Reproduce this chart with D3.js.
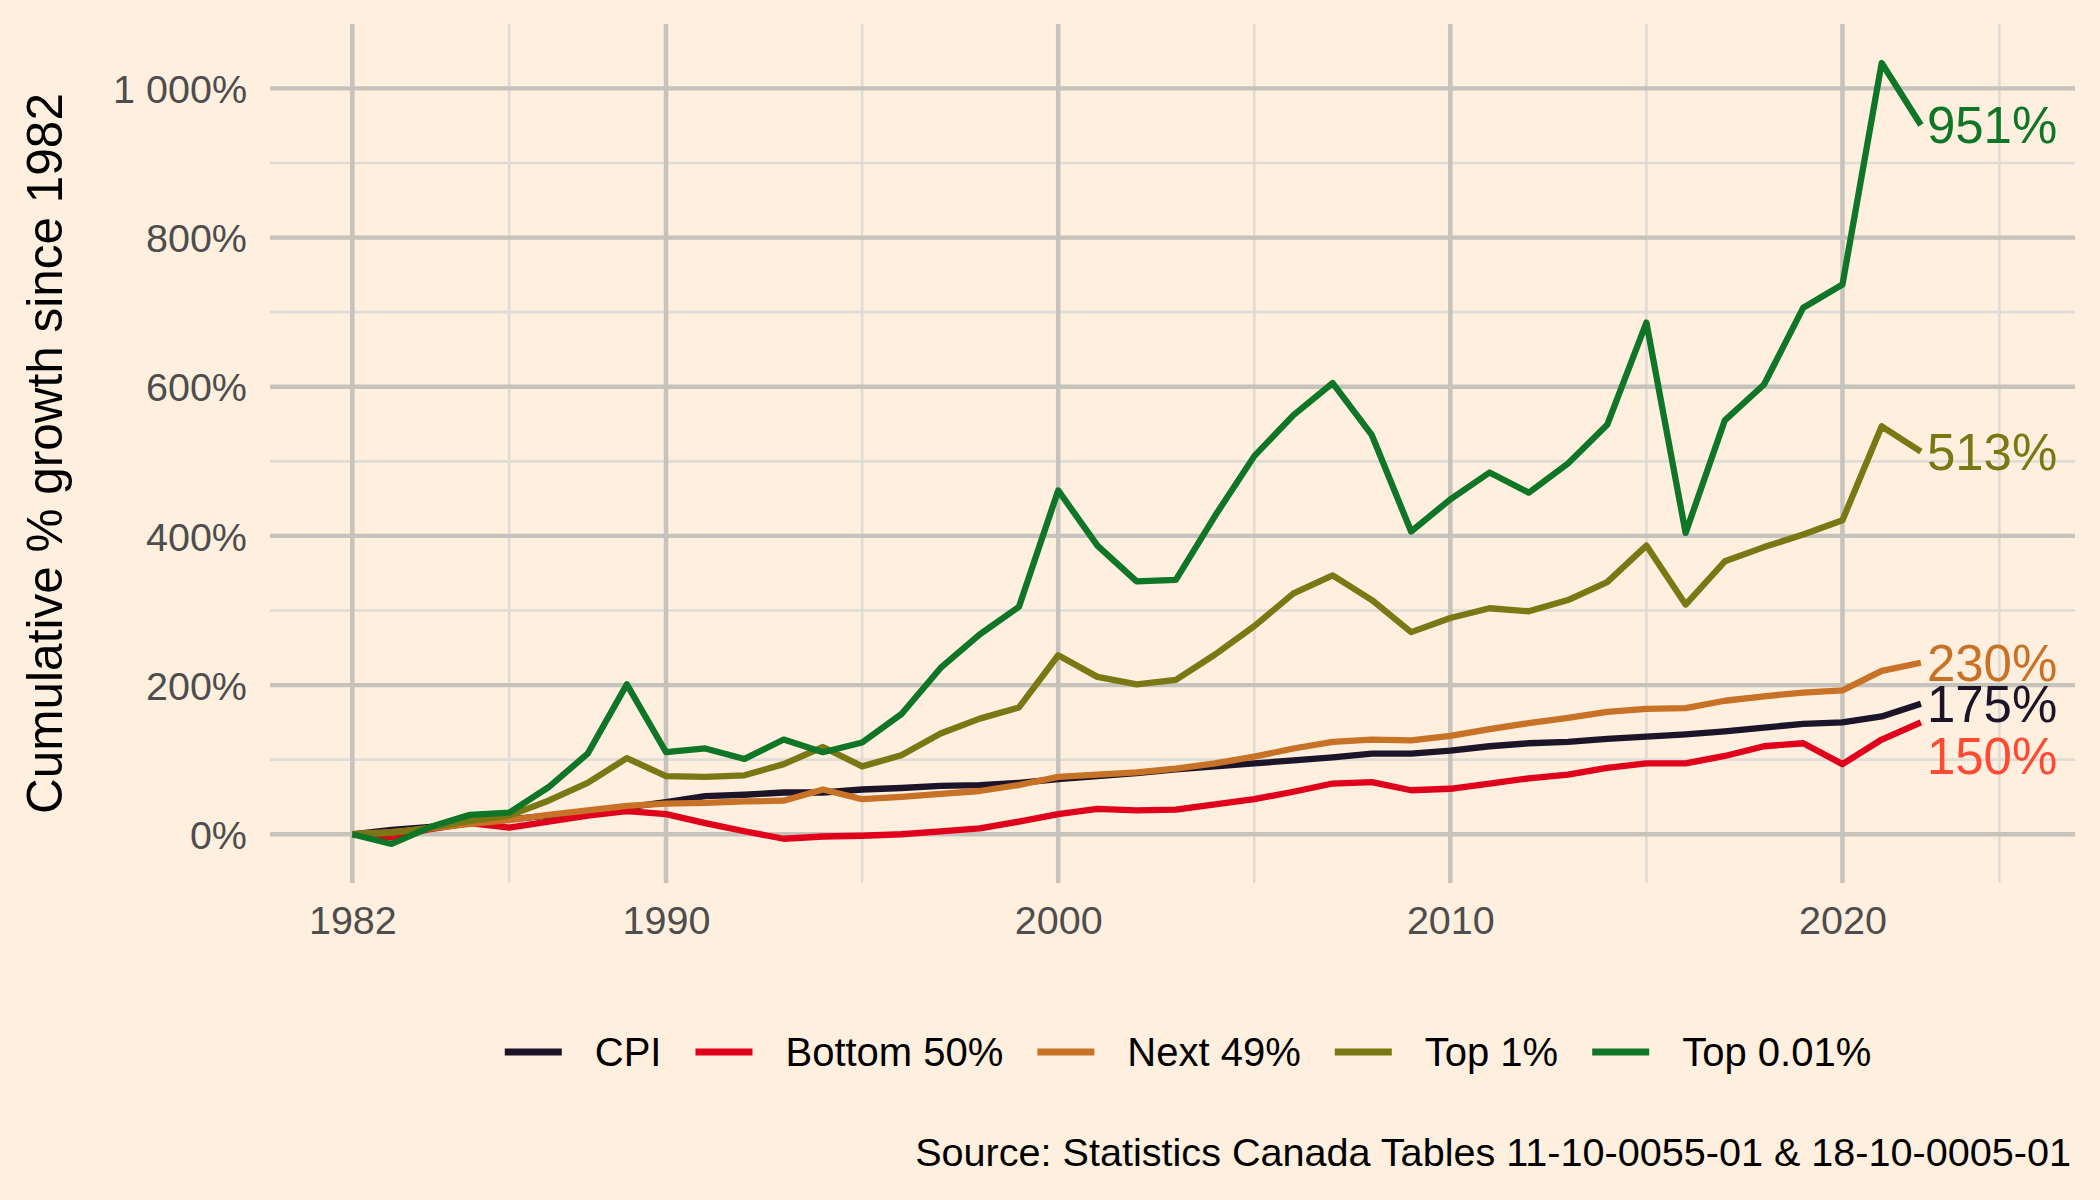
<!DOCTYPE html>
<html>
<head>
<meta charset="utf-8">
<script src="https://cdn.jsdelivr.net/npm/d3@7"></script>
<style>
  html, body { margin: 0; padding: 0; background: #FFEFDE; }
  svg { display: block; }
  text { font-family: "Liberation Sans", Arial, Helvetica, sans-serif; }
</style>
</head>
<body>
<svg id="chart" width="2100" height="1200"></svg>
<script>
// ---------------- DATA ----------------
const years = d3.range(1982, 2023);
const seriesNames = ["CPI", "Bottom 50%", "Next 49%", "Top 1%", "Top 0.01%"];
const seriesColors = ["#1C1429", "#E0001B", "#C87228", "#7A7814", "#0F7628"];
const labelColors = ["#1C1429", "#FF4A33", "#C87228", "#7A7814", "#0F7628"];

const cpi = [0, 6, 10, 15, 20, 25, 30, 36, 43, 51, 53, 56, 56, 60, 62, 65, 66, 69, 74, 78,
  82, 87, 91, 95, 99, 103, 108, 108, 112, 118, 122, 124, 128, 131, 134, 138, 143, 148, 150, 158, 175];
const bottom50 = [0, -4, 7, 15, 9, 17, 25, 31, 27, 15, 4, -6, -3, -2, 0, 4, 8, 17, 27, 34,
  32, 33, 40, 47, 57, 68, 70, 59, 61, 68, 75, 80, 89, 95, 95, 105, 118, 122, 94, 127, 150];
const next49 = [0, 3, 8, 14, 19, 26, 32, 38, 41, 42, 44, 45, 60, 47, 50, 54, 58, 66, 77, 80,
  83, 88, 95, 104, 115, 124, 127, 126, 132, 141, 149, 156, 164, 168, 169, 179, 185, 190, 193, 219, 230];
const top1 = [0, 2, 9, 18, 25, 45, 69, 102, 78, 77, 79, 94, 117, 91, 106, 135, 155, 170, 240, 211,
  201, 207, 241, 279, 323, 347, 314, 271, 290, 303, 299, 314, 338, 387, 308, 366, 385, 402, 421, 547, 513];
const top001 = [0, -13, 10, 26, 29, 63, 108, 201, 110, 115, 101, 127, 110, 123, 161, 223, 268, 305, 461, 387,
  339, 341, 427, 507, 562, 605, 535, 406, 449, 485, 458, 497, 549, 686, 404, 555, 603, 706, 737, 1034, 951];
const endLabels = ["175%", "150%", "230%", "513%", "951%"];

const xBreaks = [1982, 1990, 2000, 2010, 2020];
const xBreakLabels = ["1982", "1990", "2000", "2010", "2020"];
const xMinorBreaks = [1986, 1995, 2005, 2015, 2024];
const yBreaks = [0, 200, 400, 600, 800, 1000];
const yBreakLabels = ["0%", "200%", "400%", "600%", "800%", "1 000%"];
const yMinorBreaks = [100, 300, 500, 700, 900];

const yTitle = "Cumulative % growth since 1982";
const caption = "Source: Statistics Canada Tables 11-10-0055-01 & 18-10-0005-01";

// ---------------- LAYOUT ----------------
const allValues = [cpi, bottom50, next49, top1, top001];
const series = seriesNames.map((name, i) => ({
  name, color: seriesColors[i], labelColor: labelColors[i], label: endLabels[i],
  values: years.map((yr, j) => ({ year: yr, value: allValues[i][j] }))
}));

const panel = { left: 270, right: 2075, top: 24, bottom: 883 };
const svg = d3.select("#chart");

svg.append("rect").attr("width", 2100).attr("height", 1200).attr("fill", "#FFEFDE");

const x = d3.scaleLinear().domain([1979.9, 2025.93]).range([panel.left, panel.right]);

const vMin = d3.min(allValues, a => d3.min(a));
const vMax = d3.max(allValues, a => d3.max(a));
const yPad = (vMax - vMin) * 0.05;
const y = d3.scaleLinear().domain([vMin - yPad, vMax + yPad]).range([panel.bottom, panel.top]);

const grid = svg.append("g");
grid.selectAll("line.ymin").data(yMinorBreaks).join("line")
  .attr("x1", panel.left).attr("x2", panel.right)
  .attr("y1", d => y(d)).attr("y2", d => y(d))
  .attr("stroke", "#DFDBD5").attr("stroke-width", 2.6);
grid.selectAll("line.xmin").data(xMinorBreaks).join("line")
  .attr("y1", panel.top).attr("y2", panel.bottom)
  .attr("x1", d => x(d)).attr("x2", d => x(d))
  .attr("stroke", "#DFDBD5").attr("stroke-width", 2.6);
grid.selectAll("line.ymaj").data(yBreaks).join("line")
  .attr("x1", panel.left).attr("x2", panel.right)
  .attr("y1", d => y(d)).attr("y2", d => y(d))
  .attr("stroke", "#C6C2BC").attr("stroke-width", 4.3);
grid.selectAll("line.xmaj").data(xBreaks).join("line")
  .attr("y1", panel.top).attr("y2", panel.bottom)
  .attr("x1", d => x(d)).attr("x2", d => x(d))
  .attr("stroke", "#C6C2BC").attr("stroke-width", 4.5);

// axes (text only, via d3 axes)
const xAxis = d3.axisBottom(x).tickValues(xBreaks).tickFormat((d, i) => xBreakLabels[i]).tickSize(0).tickPadding(0);
const gx = svg.append("g").attr("transform", `translate(0, ${panel.bottom})`).call(xAxis);
gx.select(".domain").remove();
gx.selectAll("text").attr("y", 51).attr("dy", 0).attr("fill", "#4D4D4D")
  .attr("font-size", 39.5).attr("font-family", '"Liberation Sans", Arial, sans-serif');

const yAxis = d3.axisLeft(y).tickValues(yBreaks).tickFormat((d, i) => yBreakLabels[i]).tickSize(0).tickPadding(0);
const gy = svg.append("g").attr("transform", `translate(${panel.left}, 0)`).call(yAxis);
gy.select(".domain").remove();
gy.selectAll("text").attr("x", -23).attr("dy", "0.36em").attr("fill", "#4D4D4D")
  .attr("font-size", 39.5).attr("font-family", '"Liberation Sans", Arial, sans-serif');

svg.append("text")
  .attr("transform", `translate(62, ${(panel.top + panel.bottom) / 2}) rotate(-90)`)
  .attr("text-anchor", "middle").attr("font-size", 49.5).attr("fill", "#000")
  .text(yTitle);

// lines
const line = d3.line().x(d => x(d.year)).y(d => y(d.value));
svg.append("g").selectAll("path").data(series).join("path")
  .attr("d", d => line(d.values))
  .attr("fill", "none").attr("stroke", d => d.color)
  .attr("stroke-width", 6.3).attr("stroke-linejoin", "round").attr("stroke-linecap", "butt");

// end labels with simple repel
const labs = series.map(s => {
  const last = s.values[s.values.length - 1];
  return { s, px: x(last.year) + 6, py: y(last.value) };
}).sort((a, b) => a.py - b.py);
for (let i = 1; i < labs.length; i++) {
  if (labs[i].py - labs[i - 1].py < 36) labs[i].py = labs[i - 1].py + 52;
}
svg.append("g").selectAll("text").data(labs).join("text")
  .attr("x", d => d.px).attr("y", d => d.py).attr("dy", "0.36em")
  .attr("font-size", 51).attr("fill", d => d.s.labelColor)
  .text(d => d.s.label);

// legend
const legend = svg.append("g");
const keyW = 57, keyGap = 33, itemGap = 34, legFont = 40;
const tmp = svg.append("text").attr("font-size", legFont);
const widths = seriesNames.map(n => { tmp.text(n); return tmp.node().getComputedTextLength(); });
tmp.remove();
const totalW = d3.sum(widths) + seriesNames.length * (keyW + keyGap) + (seriesNames.length - 1) * itemGap;
let lx = 1188 - totalW / 2;
const legY = 1052;
seriesNames.forEach((n, i) => {
  legend.append("line").attr("x1", lx).attr("x2", lx + keyW).attr("y1", legY).attr("y2", legY)
    .attr("stroke", seriesColors[i]).attr("stroke-width", 7);
  legend.append("text").attr("x", lx + keyW + keyGap).attr("y", legY).attr("dy", "0.36em")
    .attr("font-size", legFont).attr("fill", "#000").text(n);
  lx += keyW + keyGap + widths[i] + itemGap;
});

// caption
svg.append("text").attr("x", 2071).attr("y", 1166).attr("text-anchor", "end")
  .attr("font-size", 39.6).attr("fill", "#000").text(caption);
</script>
</body>
</html>
